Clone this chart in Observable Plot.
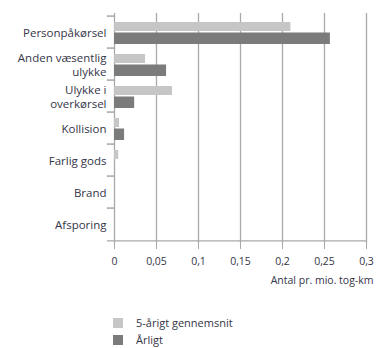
<!DOCTYPE html>
<html><head><meta charset="utf-8">
<script src="https://cdn.jsdelivr.net/npm/d3@7"></script>
<script src="https://cdn.jsdelivr.net/npm/@observablehq/plot@0.6"></script>
<style>
body{margin:0;background:#fff;font-family:"Open Sans",sans-serif;}
#legend{position:absolute;left:113px;top:314px;font-size:11px;color:#353548;}
.item{display:flex;align-items:center;height:17px;}
.sw{width:10px;height:10px;margin-right:13px;}
</style></head><body>
<div id="chart"></div>
<div id="legend"></div>
<script>
const categories = ["Personpåkørsel","Anden væsentlig\nulykke","Ulykke i\noverkørsel","Kollision","Farlig gods","Brand","Afsporing"];
const avg5 = [0.21, 0.037, 0.069, 0.006, 0.005, 0, 0];
const yearly = [0.257, 0.062, 0.024, 0.012, 0, 0, 0];
const ticks = [0, 0.05, 0.1, 0.15, 0.2, 0.25, 0.3];
const tickLabels = ["0","0,05","0,1","0,15","0,2","0,25","0,3"];
const seriesNames = ["5-årigt gennemsnit","Årligt"];
const colors = ["#c6c6c6","#7b7b7b"];

const data = categories.map((c,i)=>({c, a: avg5[i], y: yearly[i]}));
const bw = 230/7;
const plot = Plot.plot({
  width: 376, height: 300,
  marginTop: 13, marginBottom: 57, marginLeft: 114, marginRight: 10,
  style: {fontFamily: "'Open Sans', sans-serif", fontSize: "11.5px", color: "#353548"},
  x: {domain: [0, 0.3], ticks, tickFormat: (d)=>tickLabels[ticks.indexOf(d)]},
  y: {domain: categories, padding: 0},
  marks: [
    Plot.ruleX(ticks, {stroke: "#a9a9a9", strokeWidth: 1.3}),
    Plot.ruleY(categories, {y: d=>d, x1: -0.0085, x2: 0, dy: -bw/2, stroke: "#999", strokeWidth: 1.3}),
    Plot.ruleY([categories[categories.length-1]], {y: d=>d, x1: -0.0085, x2: 0.3, dy: bw/2, stroke: "#a9a9a9", strokeWidth: 1.3}),
    Plot.barX(data, {y: "c", x: "a", fill: colors[0], insetTop: 6, insetBottom: 17}),
    Plot.barX(data, {y: "c", x: "y", fill: colors[1], insetTop: 16.5, insetBottom: 4}),
    Plot.axisX({ticks, tickFormat: (d)=>tickLabels[ticks.indexOf(d)], tickSize: 6, stroke: "#a9a9a9", tickPadding: 8, fill: "#353548", fontSize: 10.5,
      label: "Antal pr. mio. tog-km", labelAnchor: "right", labelArrow: "none", labelOffset: 40}),
    Plot.axisY({tickSize: 0, tickPadding: 8, fill: "#353548", label: null, lineHeight: 1.2})
  ]
});
document.getElementById("chart").appendChild(plot);
const lg = document.getElementById("legend");
seriesNames.forEach((n,i)=>{
  const d = document.createElement("div"); d.className="item";
  d.innerHTML = `<span class="sw" style="background:${colors[i]}"></span><span>${n}</span>`;
  lg.appendChild(d);
});
</script>
</body></html>
